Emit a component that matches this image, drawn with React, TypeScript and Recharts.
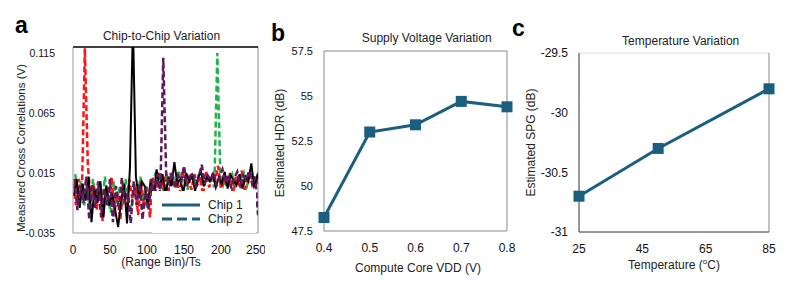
import { LineChart, Line, XAxis, YAxis, Legend, ReferenceLine } from "recharts";

const FONT = "'Liberation Sans', Arial, sans-serif";
const TEAL = "#1a5f80";

// panel a: range bins (each trace is sampled on its own offset of these bins)
const bins = [
  0, 4, 8, 12, 16, 20, 24, 28, 32, 36, 40, 44, 48, 52, 56, 60,
  64, 68, 72, 76, 80, 84, 88, 92, 96, 100, 104, 108, 112, 116, 120, 124,
  128, 132, 136, 140, 144, 148, 152, 156, 160, 164, 168, 172, 176, 180, 184, 188,
  192, 196, 200, 204, 208, 212, 216, 220, 224, 228, 232, 236, 240, 244, 248, 252,
];

const redVals = [
  0.006, -0.012, 0.01, -0.004, 0.119, 0.022, -0.008, 0.004,
  -0.016, 0.008, -0.025, 0.002, -0.01, 0.012, -0.018, -0.002,
  -0.024, 0.006, -0.012, 0.01, -0.006, 0.004, -0.02, 0.009,
  -0.014, 0.003, -0.022, 0.011, -0.004, 0.016, 0.002, 0.012,
  -0.006, 0.015, 0.004, 0.01, -0.002, 0.017, 0.006, 0.011,
  0.001, 0.014, 0.005, 0.009, -0.004, 0.016, 0.003, 0.012,
  0.007, 0.021, 0.002, 0.01, 0.004, 0.015, -0.003, 0.012,
  0.006, 0.017, 0.001, 0.011, 0.014, 0.004, 0.009, 0.002,
];

const blackVals = [
  -0.004, 0.01, -0.014, 0.006, -0.008, 0.012, -0.026, 0.002,
  -0.01, 0.008, -0.022, 0.004, -0.012, -0.002, -0.016, -0.03,
  -0.008, 0.006, -0.027, 0.02, 0.14, 0.012, -0.006, 0.008,
  0.004, -0.014, 0.01, -0.008, 0.018, 0.002, 0.014, -0.004,
  0.012, 0.004, 0.024, 0.006, 0.01, -0.002, 0.015, 0.008,
  0.013, 0.0, 0.011, 0.016, 0.004, 0.012, 0.008, 0.014,
  0.003, 0.011, 0.006, 0.016, 0.002, 0.013, 0.009, 0.005,
  0.014, 0.002, 0.012, 0.008, 0.023, 0.003, 0.013, 0.006,
];

const purpleVals = [
  0.01, -0.016, 0.004, -0.01, 0.012, -0.024, 0.006, -0.014,
  0.008, -0.022, 0.002, -0.012, 0.01, -0.026, 0.004, -0.016,
  0.011, -0.01, -0.002, -0.027, 0.008, -0.012, 0.006, -0.024,
  0.003, -0.016, 0.01, -0.006, 0.014, -0.002, 0.111, 0.012,
  0.006, 0.016, 0.002, 0.013, 0.008, 0.021, 0.004, 0.012,
  0.015, 0.003, 0.011, 0.022, 0.006, 0.013, 0.009, 0.016,
  0.004, 0.012, 0.018, 0.007, 0.014, 0.002, 0.011, 0.016,
  0.005, 0.013, 0.009, 0.017, 0.006, 0.012, -0.02, -0.008,
];

const greenVals = [
  0.014, -0.006, 0.008, -0.012, 0.004, -0.016, 0.01, -0.008,
  0.006, -0.014, 0.012, -0.004, -0.018, 0.008, -0.01, 0.004,
  -0.012, 0.01, -0.006, -0.016, 0.006, -0.008, 0.012, -0.014,
  0.004, -0.01, 0.008, 0.014, 0.002, 0.01, -0.002, 0.013,
  0.007, 0.012, 0.003, 0.016, 0.008, 0.011, 0.001, 0.014,
  0.006, 0.01, 0.015, 0.004, 0.012, 0.007, 0.01, 0.003,
  0.115, 0.016, 0.005, 0.012, 0.009, 0.014, 0.002, 0.011,
  0.008, 0.015, 0.004, 0.012, 0.01, 0.006, 0.013, 0.009,
];

const chipTraces = [
  { key: "green", offset: 3, values: greenVals, color: "#22b24c", dash: "6 3", width: 2.5 },
  { key: "red", offset: 0, values: redVals, color: "#ff1414", dash: "6 3", width: 2.5 },
  { key: "black", offset: 1, values: blackVals, color: "#000000", dash: undefined, width: 2 },
  { key: "purple", offset: 2, values: purpleVals, color: "#5e1a5e", dash: "6 3", width: 2.5 },
];

const binTicks = [0, 50, 100, 150, 200, 250];
const corrTicks = [-0.035, 0.015, 0.065, 0.115];
const legendItems = [
  { label: "Chip 1", dash: undefined },
  { label: "Chip 2", dash: "10 5" },
];

// panel b
const vdd = [0.4, 0.5, 0.6, 0.7, 0.8];
const hdr = [48.25, 53.0, 53.4, 54.7, 54.4];
const hdrTicks = [47.5, 50, 52.5, 55, 57.5];

// panel c
const temps = [25, 50, 85];
const spg = [-30.7, -30.3, -29.8];
const tempTicks = [25, 45, 65, 85];
const spgTicks = [-31, -30.5, -30, -29.5];

const hdrData = vdd.map((v, i) => ({ vdd: v, hdr: hdr[i] }));
const spgData = temps.map((t, i) => ({ temp: t, spg: spg[i] }));

const SquareDot = (props: any) => {
  const { cx, cy, index } = props;
  if (cx == null || cy == null) return null;
  return <rect key={index} x={cx - 5.5} y={cy - 5.5} width={11} height={11} fill={TEAL} />;
};

const ChipLegend = () => (
  <div style={{ background: "#fff", width: 104, height: 42 }}>
    <svg width={104} height={42}>
      {legendItems.map((it, i) => (
        <g key={it.label}>
          <line x1={10} x2={48} y1={14 + i * 14} y2={14 + i * 14} stroke={TEAL} strokeWidth={3} strokeDasharray={it.dash} />
          <text x={56} y={14 + i * 14} dominantBaseline="central" fontSize={12} fill="#222" fontFamily={FONT}>
            {it.label}
          </text>
        </g>
      ))}
    </svg>
  </div>
);

export default function App() {
  return (
    <div style={{ position: "absolute", left: 0, top: 0, width: 792, height: 290, background: "#fff", fontFamily: FONT }}>
      {/* a */}
      <div style={{ position: "absolute", left: 0, top: 0 }}>
        <LineChart width={265} height={290} margin={{ top: 47, right: 7, bottom: 0, left: 0 }}>
          <XAxis dataKey="bin" type="number" domain={[0, 250]} ticks={binTicks} allowDataOverflow
            height={57} tickLine={false} tickSize={0} tickMargin={12} stroke="#999"
            tick={{ fontSize: 12, fill: "#111" }} />
          <YAxis type="number" domain={[-0.035, 0.12]} ticks={corrTicks} allowDataOverflow
            width={73} tickLine={false} tickSize={0} tickMargin={18} stroke="#999"
            tick={{ fontSize: 10.5, fill: "#111" }} />
          <ReferenceLine x={250} stroke="#888" />
          {chipTraces.map((t) => (
            <Line key={t.key} data={bins.map((b, i) => ({ bin: b + t.offset, v: t.values[i] }))}
              dataKey="v" stroke={t.color} strokeWidth={t.width} strokeDasharray={t.dash}
              dot={false} isAnimationActive={false} />
          ))}
          <ReferenceLine y={0.12} stroke="#000" strokeWidth={1.5} />
          <Legend layout="vertical" align="center" verticalAlign="middle" content={<ChipLegend />}
            wrapperStyle={{ left: 152, top: 191, width: 104, height: 42 }} />
        </LineChart>
      </div>

      {/* b */}
      <div style={{ position: "absolute", left: 265, top: 0 }}>
        <LineChart width={265} height={290} data={hdrData} margin={{ top: 51, right: 23, bottom: 0, left: 0 }}>
          <XAxis dataKey="vdd" type="number" domain={[0.4, 0.8]} ticks={vdd}
            tickFormatter={(v: number) => v.toFixed(1)}
            height={59} tickLine={false} tickSize={0} tickMargin={12} stroke="#888"
            tick={{ fontSize: 12, fill: "#111" }} />
          <YAxis type="number" domain={[47.5, 57.5]} ticks={hdrTicks}
            width={59} tickLine={false} tickSize={0} tickMargin={11} stroke="#888"
            tick={{ fontSize: 11, fill: "#111" }} />
          <ReferenceLine y={57.5} stroke="#888" />
          <ReferenceLine x={0.8} stroke="#888" />
          <Line dataKey="hdr" stroke={TEAL} strokeWidth={3} dot={<SquareDot />} isAnimationActive={false} />
        </LineChart>
      </div>

      {/* c */}
      <div style={{ position: "absolute", left: 530, top: 0 }}>
        <LineChart width={262} height={290} data={spgData} margin={{ top: 53, right: 23, bottom: 0, left: 0 }}>
          <XAxis dataKey="temp" type="number" domain={[25, 85]} ticks={tempTicks}
            height={58} tickLine={false} tickSize={0} tickMargin={12} stroke="#333"
            tick={{ fontSize: 12, fill: "#111" }} />
          <YAxis type="number" domain={[-31, -29.5]} ticks={spgTicks}
            width={49} tickLine={false} tickSize={0} tickMargin={11} stroke="#333"
            tick={{ fontSize: 12, fill: "#111" }} />
          <ReferenceLine y={-29.5} stroke="#ddd" />
          <ReferenceLine x={85} stroke="#888" />
          <Line dataKey="spg" stroke={TEAL} strokeWidth={3} dot={<SquareDot />} isAnimationActive={false} />
        </LineChart>
      </div>

      {/* titles, panel letters and axis titles */}
      <svg width={792} height={290} style={{ position: "absolute", left: 0, top: 0, pointerEvents: "none" }}
        fontFamily={FONT} fill="#222">
        <text x={15} y={33} fontSize={23} fontWeight="bold" fill="#000">a</text>
        <text x={271} y={41} fontSize={23} fontWeight="bold" fill="#000">b</text>
        <text x={512} y={36} fontSize={23} fontWeight="bold" fill="#000">c</text>

        <text x={161.5} y={36} fontSize={12} textAnchor="middle" dominantBaseline="central">Chip-to-Chip Variation</text>
        <text x={426.7} y={37.7} fontSize={12} textAnchor="middle" dominantBaseline="central">Supply Voltage Variation</text>
        <text x={680.7} y={41} fontSize={12} textAnchor="middle" dominantBaseline="central">Temperature Variation</text>

        <text x={161} y={262} fontSize={12} textAnchor="middle" dominantBaseline="central">(Range Bin)/Ts</text>
        <text x={418} y={268} fontSize={12} textAnchor="middle" dominantBaseline="central">Compute Core VDD (V)</text>
        <text x={674} y={265} fontSize={12} textAnchor="middle" dominantBaseline="central">
          Temperature (<tspan fontSize={8} dy={-4}>o</tspan><tspan dy={4}>C)</tspan>
        </text>

        <text transform="translate(20.5,148) rotate(-90)" fontSize={11.5} textAnchor="middle" dominantBaseline="central">
          Measured Cross Correlations (V)
        </text>
        <text transform="translate(279.5,143) rotate(-90)" fontSize={12} textAnchor="middle" dominantBaseline="central">
          Estimated HDR (dB)
        </text>
        <text transform="translate(531,142.5) rotate(-90)" fontSize={12} textAnchor="middle" dominantBaseline="central">
          Estimated SPG (dB)
        </text>
      </svg>
    </div>
  );
}
